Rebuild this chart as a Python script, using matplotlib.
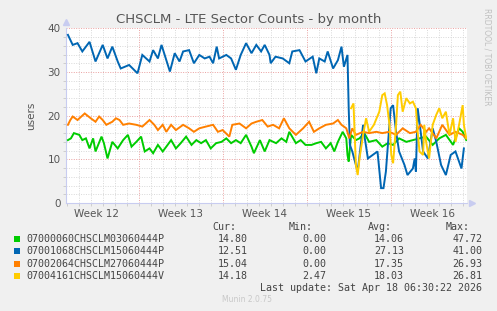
import matplotlib
matplotlib.use("Agg")
import matplotlib.pyplot as plt
from matplotlib.patches import Rectangle
import numpy as np

# days since start of window (left edge of graph), values in users
green_days = [0.1, 0.35, 0.6, 1.05, 1.3, 1.6, 1.9, 2.2, 2.4, 2.9, 3.1, 3.4, 3.8, 4.25, 4.7, 5.1,
              5.4, 5.8, 6.2, 6.5, 6.9, 7.2, 7.6, 8.0, 8.3, 8.7, 9.1, 9.5, 9.95, 10.4, 10.8, 11.2,
              11.6, 12.0, 12.45, 12.9, 13.3, 13.7, 14.1, 14.5, 14.95, 15.4, 15.6, 16.1, 16.5, 16.9,
              17.45, 17.9, 18.3, 18.55, 19.1, 19.5, 19.9, 20.4, 20.8, 21.2, 21.6, 22.0, 22.3, 22.6,
              23.0, 23.3, 23.4, 23.5, 23.7, 24.1, 24.4, 24.8, 25.2, 25.8, 26.3, 26.75, 27.2, 27.7,
              28.3, 28.85, 29.4, 29.95, 30.5, 31.05, 31.6, 32.2, 32.7, 33.0, 33.3]
green_vals = [14.4, 14.8, 16.0, 15.6, 14.4, 14.8, 12.5, 14.8, 11.8, 15.2, 13.7, 10.2, 14.0, 12.5, 14.4, 15.6,
              12.9, 14.0, 15.2, 11.8, 12.5, 11.4, 13.3, 11.8, 12.9, 14.4, 12.5, 13.7, 15.2, 13.3, 14.4, 13.7,
              14.4, 12.5, 13.7, 14.0, 14.8, 13.7, 14.4, 13.7, 15.6, 12.9, 11.4, 14.4, 11.8, 14.4,
              13.7, 14.8, 14.0, 16.3, 13.7, 14.4, 13.3, 13.3, 13.7, 14.0, 12.5, 13.7, 11.8, 14.0,
              16.3, 14.8, 11.0, 9.5, 15.6, 14.4, 14.8, 16.0, 14.0, 14.4, 12.9, 13.7, 13.3, 14.8,
              14.0, 14.4, 14.8, 15.2, 13.3, 14.8, 15.6, 13.3, 17.1, 16.3, 14.4]

blue_days = [0.1, 0.5, 0.9, 1.3, 1.9, 2.4, 3.0, 3.4, 3.8, 4.25, 4.5, 5.2, 5.9, 6.3, 6.9, 7.2,
             7.6, 7.9, 8.6, 9.0, 9.4, 9.7, 10.2, 10.6, 11.05, 11.5, 11.9, 12.2, 12.5, 12.7, 13.3,
             13.7, 14.1, 14.5, 14.95, 15.4, 15.8, 16.2, 16.5, 16.9, 17.0, 17.4, 18.0, 18.55, 18.8,
             19.4, 19.9, 20.5, 20.8, 21.05, 21.5, 21.75, 22.2, 22.6, 22.9, 23.1, 23.4, 23.5, 23.6,
             23.8, 24.25, 24.7, 24.8, 25.1, 25.5, 25.9, 26.2, 26.4, 26.6, 27.0, 27.2, 27.45, 27.7,
             28.15, 28.4, 28.85, 29.0, 29.1, 29.25, 29.5, 29.7, 30.1, 30.5, 30.8, 31.2, 31.6, 32.0,
             32.4, 32.9, 33.1]
blue_vals = [38.5, 36.2, 36.6, 34.7, 36.9, 32.4, 36.2, 33.1, 35.8, 32.4, 30.8, 31.6, 29.7, 33.9, 32.4, 35.0,
             33.1, 36.2, 30.1, 34.3, 32.4, 34.7, 35.0, 32.0, 33.9, 33.1, 33.5, 32.0, 35.8, 33.1, 33.9,
             33.1, 30.5, 33.9, 36.6, 34.3, 36.2, 34.7, 36.2, 33.9, 32.0, 33.5, 33.1, 32.0, 34.7,
             35.0, 32.4, 33.5, 29.7, 33.1, 32.4, 34.7, 30.8, 32.7, 35.8, 31.2, 33.9, 21.7, 13.3,
             11.8, 7.2, 17.9, 15.6, 10.2, 11.0, 11.8, 3.4, 3.4, 7.2, 21.7, 22.4, 16.3, 11.8,
             8.7, 6.4, 7.9, 10.2, 7.2, 21.7, 16.3, 11.8, 10.2, 17.1, 14.0, 8.7, 6.4, 11.0,
             11.8, 7.9, 12.5]

orange_days = [0.1, 0.3, 0.5, 0.9, 1.5, 2.0, 2.4, 2.7, 3.0, 3.3, 3.8, 4.1, 4.4, 4.7, 5.2, 5.8,
               6.3, 6.9, 7.3, 7.6, 8.0, 8.3, 8.7, 9.1, 9.7, 10.2, 10.6, 11.05, 11.6, 12.2, 12.6,
               13.0, 13.55, 13.8, 14.4, 14.95, 15.4, 15.8, 16.3, 16.75, 17.2, 17.7, 18.1, 18.55,
               19.1, 19.7, 20.2, 20.6, 21.05, 21.6, 22.2, 22.6, 22.9, 23.3, 23.55, 23.8, 24.1, 24.7,
               25.2, 25.8, 26.3, 26.9, 27.45, 28.0, 28.6, 29.1, 29.5, 29.95, 30.2, 30.8, 31.3, 31.9,
               32.4, 33.0, 33.3]
orange_vals = [17.9, 19.0, 19.8, 19.0, 20.5, 19.4, 18.6, 19.8, 19.0, 17.9, 18.6, 19.4, 19.0, 17.9, 18.2, 17.9,
               17.5, 19.0, 17.9, 16.7, 17.9, 16.3, 17.9, 16.7, 17.9, 17.1, 16.3, 17.1, 17.5, 17.9, 16.3,
               16.7, 15.2, 17.9, 18.2, 17.1, 18.2, 18.6, 19.0, 17.5, 17.9, 17.1, 19.4, 17.1,
               15.6, 17.1, 18.6, 16.3, 17.1, 17.9, 18.2, 19.0, 17.9, 17.1, 14.8, 17.1, 15.6, 16.3,
               16.0, 16.3, 16.0, 16.3, 15.6, 17.1, 16.0, 16.3, 17.9, 16.3, 17.1, 14.8, 17.9, 15.6,
               16.3, 15.6, 14.8]

yellow_days = [23.7, 23.9, 24.1, 24.25, 24.4, 24.7, 24.95, 25.2, 25.6, 26.05, 26.3, 26.5, 26.7,
               26.9, 27.05, 27.2, 27.45, 27.6, 27.8, 28.0, 28.3, 28.6, 28.85, 29.1, 29.25, 29.4,
               29.7, 29.8, 29.95, 30.2, 30.5, 30.8, 31.05, 31.3, 31.6, 31.9, 32.2, 32.4, 32.7,
               33.0, 33.1, 33.3]
yellow_vals = [21.7, 22.8, 8.7, 6.4, 10.2, 15.6, 19.4, 16.3, 17.9, 20.9, 24.7, 25.1, 22.4,
               17.9, 11.0, 9.1, 17.9, 24.7, 25.5, 20.9, 24.0, 22.8, 23.2, 21.7, 16.3, 11.8,
               11.0, 17.9, 14.0, 10.2, 17.9, 20.2, 21.7, 19.4, 20.9, 15.6, 19.4, 14.0, 17.9,
               22.4, 17.9, 14.8]

names = ["07000060CHSCLM03060444P", "07001068CHSCLM15060444P",
         "07002064CHSCLM27060444P", "07004161CHSCLM15060444V"]
colors = ["#00CC00", "#0066B3", "#FF8000", "#FFCC00"]
cur = ["14.80", "12.51", "15.04", "14.18"]
mins = ["0.00", "0.00", "0.00", "2.47"]
avgs = ["14.06", "27.13", "17.35", "18.03"]
maxs = ["47.72", "41.00", "26.93", "26.81"]

week_labels = ["Week 12", "Week 13", "Week 14", "Week 15", "Week 16"]
week_starts = [-1, 6, 13, 20, 27]

W, H = 497, 311
fig = plt.figure(figsize=(W / 100, H / 100), dpi=100, facecolor="#F0F0F0")


def fx(x):
    return x / W


def fy(y):
    return 1 - y / H


ax = fig.add_axes([fx(66), fy(203), fx(467) - fx(66), fy(28.3) - fy(203)])
ax.set_facecolor("white")
ax.set_xlim(-0.06, 33.36)
ax.set_ylim(0, 40)

# grid
for d in range(1, 34):
    if d in week_starts:
        continue
    ax.axvline(d, color="#d8d8d8", lw=0.7, ls=(0, (1, 1.5)), zorder=0)
for v in range(2, 40, 2):
    if v % 10:
        ax.axhline(v, color="#d8d8d8", lw=0.7, ls=(0, (1, 1.5)), zorder=0)
for d in week_starts[1:]:
    ax.axvline(d, color="#eaa0a0", lw=0.7, ls=(0, (1, 1.5)), zorder=0)
for v in [10, 20, 30, 40]:
    ax.axhline(v, color="#eaa0a0", lw=0.7, ls=(0, (1, 1.5)), zorder=0)

for xs, ys, c in zip([green_days, blue_days, orange_days, yellow_days],
                     [green_vals, blue_vals, orange_vals, yellow_vals], colors):
    ax.plot(xs, ys, color=c, lw=1.4, solid_joinstyle="miter", zorder=3)

for s in ["top", "right"]:
    ax.spines[s].set_visible(False)
for s in ["left", "bottom"]:
    ax.spines[s].set_color("#c8ccf0")
    ax.spines[s].set_linewidth(0.8)
ax.plot([0], [1.035], marker="^", color="#c8ccf0", ms=4, transform=ax.transAxes, clip_on=False)
ax.plot([1.012], [0], marker=">", color="#c8ccf0", ms=4, transform=ax.transAxes, clip_on=False)

ax.set_yticks([0, 10, 20, 30, 40])
ax.set_yticks(range(0, 41, 2), minor=True)
ax.set_xticks([s + 3.5 for s in week_starts])
ax.set_xticklabels(week_labels)
ax.set_xticks(range(0, 34), minor=True)
ax.tick_params(axis="both", which="major", length=0, labelsize=7.5, labelcolor="#555555", pad=4)
ax.tick_params(axis="y", which="minor", length=2, color="#c8c8c8")
ax.tick_params(axis="x", which="minor", length=2, color="#c8c8c8")
ax.set_ylabel("users", fontsize=7.5, color="#555555", labelpad=8)

fig.text(0.5, fy(19), "CHSCLM - LTE Sector Counts - by month", ha="center", va="center",
         fontsize=9.5, color="#555555")
fig.text(fx(487), fy(8), "RRDTOOL / TOBI OETIKER", rotation=270, ha="center", va="top",
         fontsize=5.5, color="#c0c0c0")

mono = "DejaVu Sans Mono"
hy = 227.5
for lab, xr in zip(["Cur:", "Min:", "Avg:", "Max:"], [236, 313, 392, 470]):
    fig.text(fx(xr), fy(hy), lab, ha="right", va="center", family=mono, fontsize=7.2, color="#444444")
for i in range(4):
    y = 239 + i * 12.3
    fig.add_artist(Rectangle((fx(14), fy(y + 3)), fx(6), fy(y - 3) - fy(y + 3),
                             transform=fig.transFigure, color=colors[i], lw=0))
    fig.text(fx(26), fy(y), names[i], ha="left", va="center", family=mono, fontsize=7.2, color="#444444")
    for val, xr in zip([cur[i], mins[i], avgs[i], maxs[i]], [248, 326, 404, 482.5]):
        fig.text(fx(xr), fy(y), val, ha="right", va="center", family=mono, fontsize=7.2, color="#444444")
fig.text(fx(482.5), fy(287.7), "Last update: Sat Apr 18 06:30:22 2026", ha="right", va="center",
         family=mono, fontsize=7.2, color="#444444")
fig.text(fx(247.5), fy(300), "Munin 2.0.75", ha="center", va="center", fontsize=5.5, color="#c8c8c8")

fig.savefig("out.png", dpi=100, facecolor=fig.get_facecolor())
